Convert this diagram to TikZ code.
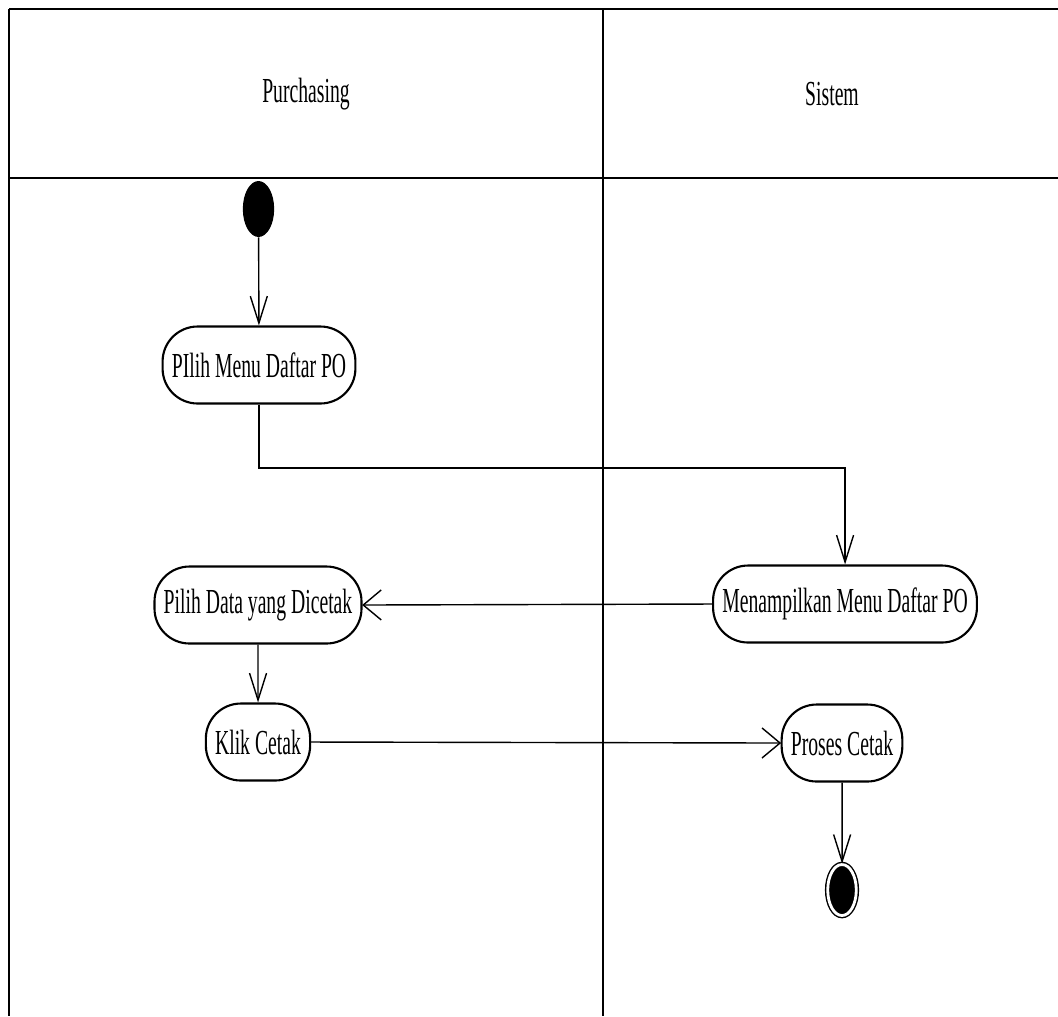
\documentclass[tikz,border=0pt]{standalone}
\usepackage{fontspec}
\setmainfont{Liberation Serif}
\usetikzlibrary{arrows.meta}

\tikzset{
  lanetitle/.style={font=\fontsize{20}{24}\selectfont},
  action/.style={draw, line width=1.2pt, rounded corners=0.7cm, minimum height=1.54cm,
    inner xsep=0.33cm, font=\fontsize{20}{24}\selectfont},
  startdot/.style={circle, fill=black, minimum size=1.12cm, inner sep=0pt},
  enddot/.style={circle, fill=black, draw=black, double=white, double distance=1.6pt,
    line width=0.8pt, minimum size=1.02cm, inner sep=0pt},
  vflow/.style={line width=0.8pt, -{Straight Barb[length=0.54cm, width=0.34cm]}},
  hflow/.style={line width=0.8pt, -{Straight Barb[length=0.36cm, width=0.6cm]}},
}

\begin{document}
\begin{tikzpicture}[x=0.035714cm, y=-0.02cm, xscale=0.56,
    every node/.append style={transform shape}]
    \useasboundingbox (0,0) rectangle (1058,1016);

    % Swimlane frame
    \draw[line width=1.2pt] (9,9) -- (1058,9);
    \draw[line width=1.2pt] (9,178) -- (1058,178);
    \draw[line width=0.7pt] (9,9) -- (9,1016);
    \draw[line width=0.7pt] (603,9) -- (603,1016);

    % Lane titles
    \node[lanetitle] (purchasing) at (306,94) {Purchasing};
    \node[lanetitle] (sistem) at (832,94) {Sistem};

    % Purchasing lane
    \node[startdot] (start) at (258.5,209) {};
    \node[action] (pilihmenu) at (259,365) {PIlih Menu Daftar PO};
    \node[action] (pilihdata) at (258,605) {Pilih Data yang Dicetak};
    \node[action] (klik) at (258,742) {Klik Cetak};

    % Sistem lane
    \node[action] (tampil) at (845,604) {Menampilkan Menu Daftar PO};
    \node[action] (proses) at (842,743) {Proses Cetak};
    \node[enddot] (finish) at (842,890) {};

    % Flow
    \coordinate (bend) at (259,468);
    \draw[vflow] (start) -- (pilihmenu);
    \draw[vflow] (pilihmenu.south) -- (bend) -| (tampil.north);
    \draw[hflow] (tampil.west) -- (pilihdata.east);
    \draw[vflow] (pilihdata) -- (klik);
    \draw[hflow] (klik.east) -- (proses.west);
    \draw[vflow] (proses) -- (finish);
\end{tikzpicture}
\end{document}
